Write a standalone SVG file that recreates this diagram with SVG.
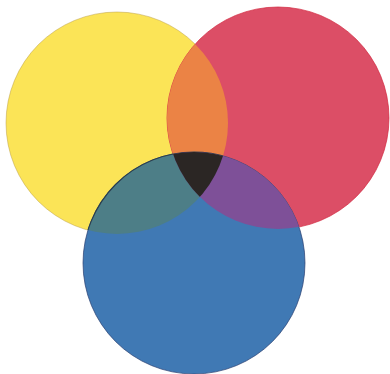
<svg xmlns="http://www.w3.org/2000/svg" width="390" height="374" viewBox="0 0 390 374">
<defs>
<clipPath id="cy"><circle cx="117" cy="123" r="111"/></clipPath>
<clipPath id="cr"><circle cx="278" cy="118" r="111"/></clipPath>
<clipPath id="cb"><circle cx="194" cy="263" r="111"/></clipPath>
</defs>
<style>
.y{fill:#FBE457;stroke:#B89A40;stroke-width:0.8;stroke-opacity:0.6}
.r{fill:#DC4E66;stroke:#D2283F;stroke-width:1;stroke-opacity:0.7}
.b{fill:#4079B4;stroke:#2A3F70;stroke-width:1;stroke-opacity:0.7}
</style>
<rect width="390" height="374" fill="#FFFFFF"/>
<g id="yellow"><circle class="y" cx="117" cy="123" r="111"/></g>
<g id="red"><circle class="r" cx="278" cy="118" r="111"/></g>
<g id="blue"><circle class="b" cx="194" cy="263" r="111"/></g>
<g id="orange" clip-path="url(#cy)"><circle cx="278" cy="118" r="111" fill="#EB8345"/></g>
<g id="green" clip-path="url(#cy)"><circle cx="194" cy="263" r="111" fill="#4D7E87" stroke="#2A3F50" stroke-width="1.2"/></g>
<g id="purple" clip-path="url(#cr)"><circle cx="194" cy="263" r="111" fill="#7E5098"/></g>
<g id="black" clip-path="url(#cy)"><g clip-path="url(#cr)"><circle cx="194" cy="263" r="111" fill="#2B2624"/></g></g>
</svg>
